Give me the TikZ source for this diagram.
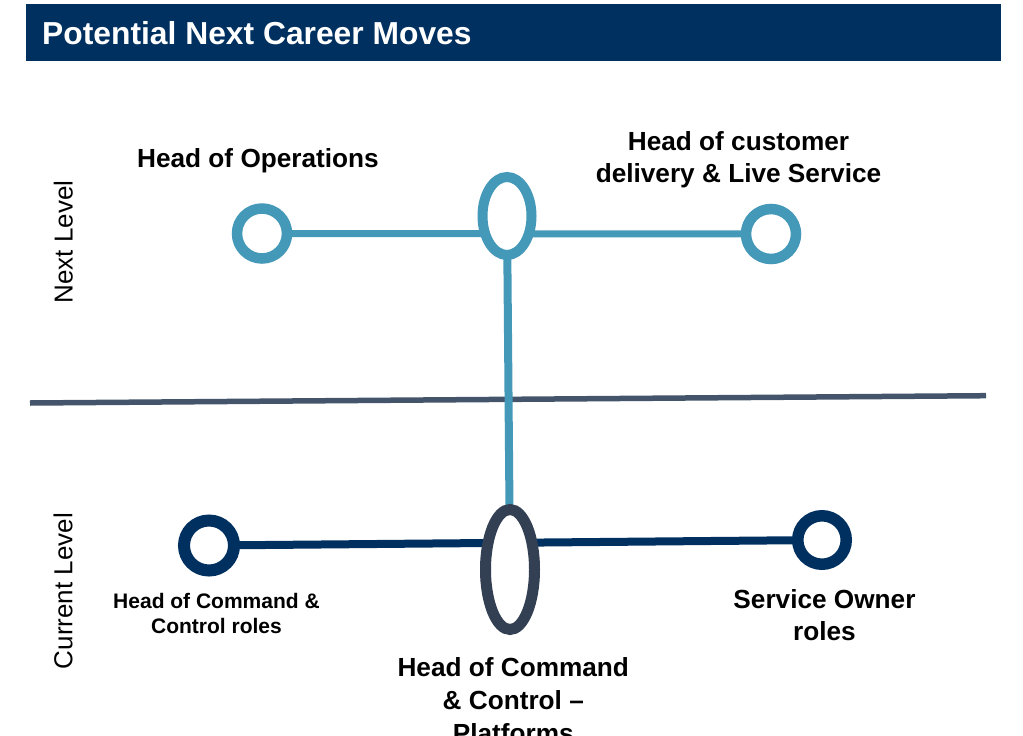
\documentclass[tikz,border=0pt]{standalone}
\usepackage{fontspec}
\setmainfont{Liberation Sans}
\usetikzlibrary{shapes.geometric}
\pgfdeclarelayer{background}
\pgfsetlayers{background,main}

\definecolor{navy}{HTML}{00305F}
\definecolor{teal}{HTML}{4599B8}
\definecolor{slate}{HTML}{44546A}
\definecolor{darkring}{HTML}{333F52}

\tikzset{
  ring/.style={circle, draw, fill=white, inner sep=0pt, minimum size=50pt},
  oval/.style={ellipse, draw, fill=white, inner sep=0pt},
  label/.style={inner sep=0pt, align=center, font=\bfseries\fontsize{26.2}{32.5}\selectfont},
  levellabel/.style={inner sep=0pt, rotate=90, anchor=base, font=\fontsize{26}{30}\selectfont},
}

\begin{document}
\begin{tikzpicture}[x=1pt,y=-1pt]
  \useasboundingbox (0,0) rectangle (1023,736);

  % title bar
  \fill[navy] (26,4) rectangle (1001,61);
  \node[anchor=base west, inner sep=0pt, text=white,
        font=\bfseries\fontsize{31.8}{38}\selectfont] (title) at (42,44.3) {Potential Next Career Moves};

  % next level
  \node[ring, draw=teal, line width=10.5pt] (ops) at (262,233.5) {};
  \node[ring, draw=teal, line width=10.5pt] (cust) at (771,234) {};
  \node[oval, draw=teal, line width=10pt, minimum width=49pt, minimum height=78pt] (hub) at (507,216) {};

  % current level
  \node[ring, draw=navy, line width=12pt] (ccroles) at (209,545.5) {};
  \node[ring, draw=navy, line width=11.5pt, minimum size=48.5pt] (owner) at (822,540) {};
  \node[oval, draw=darkring, line width=11pt, minimum width=49pt, minimum height=120pt] (platforms) at (510,569.5) {};

  % level divider
  \coordinate (divL) at (30,403);
  \coordinate (divR) at (986,395.7);

  \begin{pgfonlayer}{background}
    \draw[slate, line width=5.5pt] (divL) -- (divR);
    \draw[teal, line width=7pt] (ops.center) -- (cust.center);
    \draw[navy, line width=8pt] (ccroles.center) -- (owner.center);
    \draw[teal, line width=8pt] (hub.center) -- (platforms.center);
  \end{pgfonlayer}

  % role labels
  \node[label, anchor=north] (opsL) at (258,148.5) {Head of Operations};
  \node[label, anchor=north] (custL) at (738.5,131) {Head of customer\\delivery \& Live Service};
  \node[label, anchor=north, font=\bfseries\fontsize{21}{25}\selectfont] (ccrolesL) at (216.5,593) {Head of Command \&\\Control roles};
  \node[label, anchor=north, font=\bfseries\fontsize{26.2}{32}\selectfont] (ownerL) at (824.5,589.5) {Service Owner\\roles};
  \node[label, anchor=north, font=\bfseries\fontsize{26.2}{33}\selectfont] (platformsL) at (513.3,657.7) {Head of Command\\\& Control –\\Platforms};

  % level names
  \node[levellabel] (nextL) at (72.5,242) {Next Level};
  \node[levellabel] (currL) at (72.3,591) {Current Level};
\end{tikzpicture}
\end{document}
